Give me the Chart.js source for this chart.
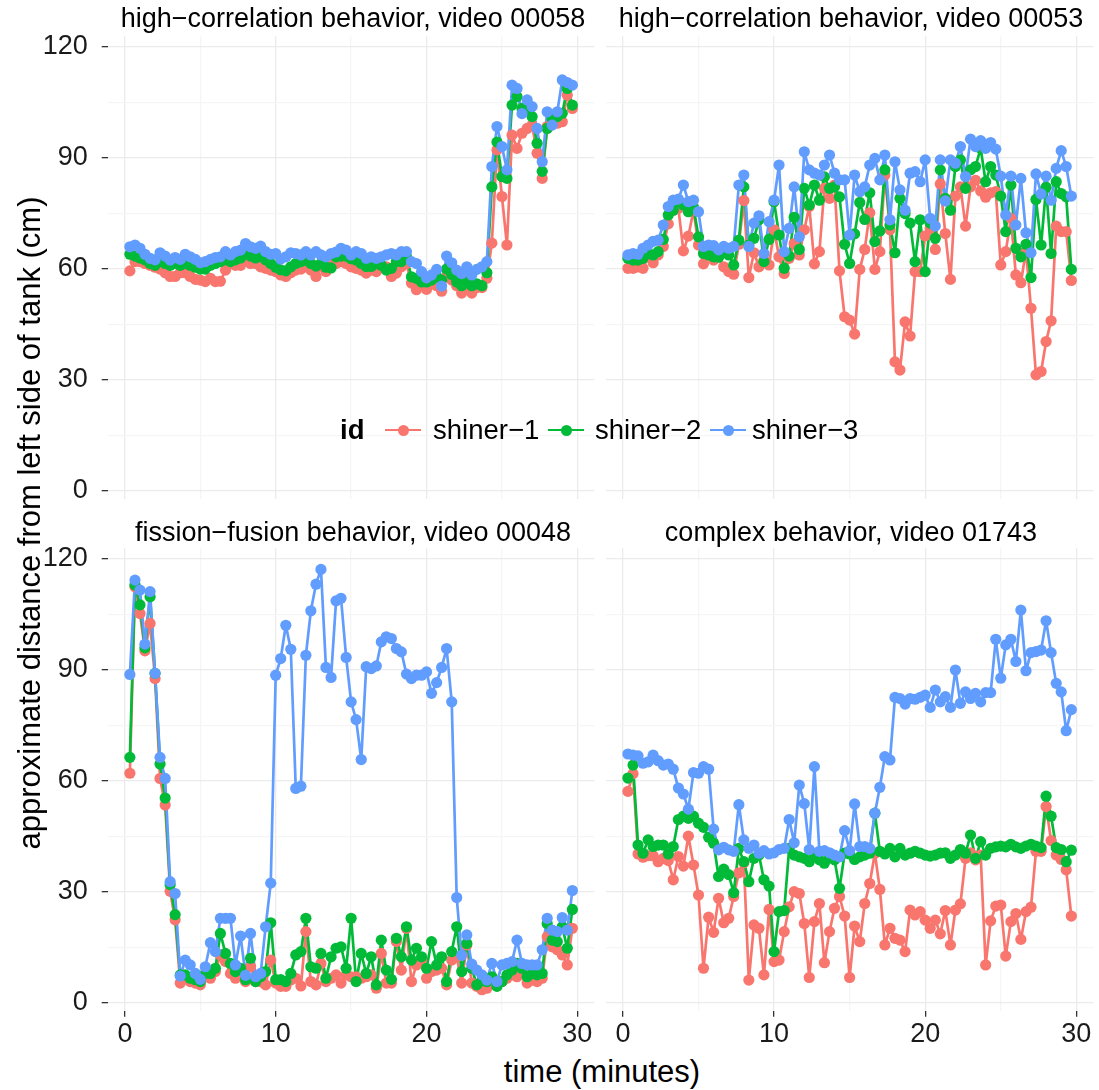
<!DOCTYPE html>
<html>
<head>
<meta charset="utf-8">
<script src="https://cdn.jsdelivr.net/npm/chart.js@4.4.1/dist/chart.umd.min.js"></script>
<style>
  body { margin: 0; background: #fff; }
  #wrap { position: relative; width: 1099px; height: 1090px; overflow: hidden; font-family: "Liberation Sans", Arial, sans-serif; color: #000; }
  canvas { position: absolute; }
  .strip { position: absolute; font-size: 27px; text-align: center; line-height: 30px; white-space: nowrap; }
  .axis-title { position: absolute; font-size: 31px; white-space: nowrap; line-height: 36px; }
  .leg { position: absolute; font-size: 27.5px; line-height: 30px; white-space: nowrap; }
  .key { position: absolute; width: 36px; height: 30px; }
  .key::before { content: ''; position: absolute; left: 0; right: 0; top: 13.7px; height: 2.7px; background: var(--c); }
  .key::after { content: ''; position: absolute; left: 12.5px; top: 9.5px; width: 11px; height: 11px; border-radius: 50%; background: var(--c); }
</style>
</head>
<body>
<div id="wrap">
  <canvas id="chart-tl"></canvas>
  <canvas id="chart-tr"></canvas>
  <canvas id="chart-bl"></canvas>
  <canvas id="chart-br"></canvas>

  <div class="strip" style="left:108px;width:490px;top:3px;">high−correlation behavior, video 00058</div>
  <div class="strip" style="left:606px;width:490px;top:3px;">high−correlation behavior, video 00053</div>
  <div class="strip" style="left:108px;width:490px;top:517px;">fission−fusion behavior, video 00048</div>
  <div class="strip" style="left:606px;width:490px;top:517px;">complex behavior, video 01743</div>

  <div class="axis-title" style="left:402px;width:400px;text-align:center;top:1054px;">time (minutes)</div>
  <div class="axis-title" style="left:-470px;width:1000px;text-align:center;top:505px;transform:rotate(-90deg);">approximate distance from left side of tank (cm)</div>

  <div class="leg" style="left:340px;top:415px;font-weight:bold;">id</div>
  <div class="key" style="left:385px;top:415px;--c:#F8766D;"></div>
  <div class="leg" style="left:433px;top:415px;">shiner−1</div>
  <div class="key" style="left:548px;top:415px;--c:#00BA38;"></div>
  <div class="leg" style="left:595px;top:415px;">shiner−2</div>
  <div class="key" style="left:710px;top:415px;--c:#619CFF;"></div>
  <div class="leg" style="left:752px;top:415px;">shiner−3</div>
</div>

<script>
// --- Data (minutes, cm from left side of tank) ---
const timeMinutes = [0.33,0.67,1,1.33,1.67,2,2.33,2.67,3,3.33,3.67,4,4.33,4.67,5,5.33,5.67,6,6.33,6.67,7,7.33,7.67,8,8.33,8.67,9,9.33,9.67,10,
  10.33,10.67,11,11.33,11.67,12,12.33,12.67,13,13.33,13.67,14,14.33,14.67,15,15.33,15.67,16,16.33,16.67,17,17.33,17.67,18,18.33,18.67,19,19.33,19.67,20,
  20.33,20.67,21,21.33,21.67,22,22.33,22.67,23,23.33,23.67,24,24.33,24.67,25,25.33,25.67,26,26.33,26.67,27,27.33,27.67,28,28.33,28.67,29,29.33,29.67];

const seriesNames = ['shiner−1', 'shiner−2', 'shiner−3'];
const seriesColors = ['#F8766D', '#00BA38', '#619CFF'];

const panelTitles = [
  'high−correlation behavior, video 00058',
  'high−correlation behavior, video 00053',
  'fission−fusion behavior, video 00048',
  'complex behavior, video 01743'
];

const xTicks = [0, 5, 10, 15, 20, 25, 30];
const yTicks = [0, 15, 30, 45, 60, 75, 90, 105, 120];

// video 00058
const v58Shiner1 = [59.5,62,62,61.5,61,60.5,60,59,58,58,59,59,58,57.2,57,56.6,57.5,56.6,56.7,59.7,61.5,61,61,62.4,61.5,61.5,60.6,60.2,
  59.7,59.3,58.4,58,59,59.7,60,60.6,59.7,58,60.6,59.3,61.5,61.5,62,61.5,60.6,60.2,59.7,58.9,59.7,59.3,60.6,60.6,58,58.9,60.6,61.5,56.2,54.4,
  56,54.5,56,55.5,54,58,57,55.5,53.5,55,53.5,55,55,57.5,67,92.2,79.6,66.5,96.2,92.6,96.7,98,98.9,91.3,84.5,98.5,99.4,99.4,99.8,107,103.4];
const v58Shiner2 = [64,63.5,63,62.5,61.5,61,62,61.5,61,61.5,61,61.5,61,60.5,60,60,61,61.5,62,62.5,62,62.5,63,64.5,63.5,63,63.5,62.5,61.5,60.5,59.8,
  59.5,60.6,61.5,62,62.4,61.5,60.8,61.5,60.5,60.3,63.3,63.5,63.5,62.8,62.4,61.5,60.7,60.7,61.5,61,59.7,60.2,62,62,63.3,57.9,57.5,
  56.5,56.5,57,58,57,60,58.5,56.5,55.5,57,55.5,56,55.5,59,82.2,94.3,85,84.5,104.3,106.6,103.4,103,101.2,94,86.4,98,100.7,101.2,102.1,108.8,104.3];
const v58Shiner3 = [66,66.5,65.6,64,62.9,62.5,64.4,63.5,62.4,63.1,62.6,64,63.3,62.6,61.7,62,62.6,63.1,63.3,64.7,63.8,64.7,65.1,66.9,66,65.6,66.2,64.7,64,64.2,62.7,
  63.3,64.4,64.2,63.8,64.7,63.8,64.7,63.8,63.3,64.2,64.6,65.6,65.1,63.8,64.7,64.2,62.9,63.3,62.9,63.3,63.8,64.2,63.8,64.7,64.7,62,61.5,
  59.3,57.6,58.4,59.9,55.4,63.5,61.7,59.7,58.8,60.6,58.4,59.9,60.6,62,87.7,98.5,93.1,86.8,109.7,108.8,102,105.7,103.9,98,89,102.5,98.9,102.5,111.1,110.4,109.7];

// video 00053
const v53Shiner1 = [60.2,60.2,60.6,60.2,63.3,61.7,63.8,66.1,72.2,75.9,76.4,64.9,68.9,75.8,66.5,61.4,63.8,62.4,63.3,60.6,59.3,58.6,66.7,78.5,57.7,64.4,60.6,62.4,
  61.1,70.6,63.3,58.8,62.9,66.9,63.8,70.6,76.9,61.4,64.7,81.8,79.1,82.7,59.5,47.1,46.2,42.4,59.9,65.3,75.2,59.9,64.7,85.4,70.6,34.9,32.7,45.7,41.9,
  59.3,59.3,69,71,65.3,83,69.6,57.2,79.7,82.2,71.6,82.2,84,81.1,79.4,80.6,80.9,61.1,64.7,73.7,58.4,56.3,64.9,49.4,31.4,32.3,40.4,46,71.6,70.1,70.1,56.9];
const v53Shiner2 = [62.9,62.4,62.4,62.9,64.2,63.8,64.7,68,74.6,75.9,78.2,77.3,75.5,76.7,68.7,64.2,63.8,63.3,63.2,64.7,63.8,61.1,67.8,82.2,66.5,68.3,73.3,62,
  68,78.2,69.2,60.2,63.5,74,65.3,81.8,77.3,82.7,78.6,84.9,81.8,82.2,79.5,66.7,61.5,69.5,78,73.4,80.6,67.4,70.3,86.8,71.9,64.4,79.1,75,72.4,
  62,73.3,59.3,72.4,68.3,86.8,79.1,75.9,87.7,89.5,81.8,86.8,87.7,92.6,83.6,87.7,85.4,79.7,70.1,82.7,65.6,63.3,66.7,57.7,78.8,66.5,82.1,64.2,83.6,80.4,79.5,59.9];
const v53Shiner3 = [63.8,64.2,64,65.6,66.5,67.5,67.8,71.9,76.9,78.6,78.9,82.7,78.2,78.6,75.5,66.1,66.5,66.3,65.2,66.1,65.6,66.1,82.7,85.4,66.1,72.4,74.4,64.2,72.8,78.6,88.1,
  64.7,71,82.2,68.7,91.7,86.8,85.9,85.4,88.1,90.8,85.9,84.1,84.1,69.2,85.4,80.9,82.2,88.1,89.9,84.1,90.8,73.3,89,81.4,75.9,85.9,
  86.3,83.6,89.5,73.7,71.6,89.5,78.4,89.5,88.6,93.1,85,95.1,93.1,94.7,92.6,94.2,92.4,85.1,74.6,85.1,71.9,84.5,69.8,64.4,85.7,80.3,85.1,78.6,87.2,92,87.7,79.7];

// video 00048
const v48Shiner1 = [62.1,112.5,105.3,95.2,102.6,87.7,60.7,53.5,30.2,22.5,5.4,6.7,5.8,5.4,4.9,7.6,6.7,8.5,13,11.2,8,6.7,8,5.8,9.8,5.8,5.8,4.9,11.6,5.4,4.5,
  4.5,6.2,6.7,4.6,19.3,5.8,4.9,10.7,5.8,6.7,7.6,5.4,7.6,7.1,7.1,6.7,7.1,7.6,4,13.4,5.4,5.4,16.6,8.9,20.2,5.8,10.3,
  11.6,6.7,8.5,8.9,9.4,4.9,11.6,12.5,5.4,15.7,5.4,4.5,3.6,4,5.8,5.4,5.8,6.7,7.6,7.1,8,5.4,6.2,5.8,6.7,17.9,15.2,14.4,13,10.3,20.2];
const v48Shiner2 = [66.4,113,107.6,96,109.8,89.1,64.6,55.4,32,23.9,7.6,7.6,6.7,6.3,5.8,8,8,9.4,18.8,13.4,10.7,8.5,9.4,6.3,12.1,5.8,7.1,8.5,21.7,6.3,6.3,
  5.8,8,13,13.9,22.9,9.8,9.4,13.4,6.7,12.5,14.8,15.2,9.4,22.9,5.8,13.4,8,12.5,4.9,17,8.9,6.4,17.5,12.5,20.6,11.6,14.8,
  12.5,9.4,16.6,10.3,12.5,5.8,13.9,20.6,8.5,16.1,9.4,4.9,6,5.8,7.1,4.5,5.8,7.6,8.9,10.7,9.4,7.1,8,7.6,8,21.5,17,16.6,20.6,14.8,25.3];
const v48Shiner3 = [88.8,114.3,111.6,97,111.2,89.1,66.4,60.7,32.8,29.6,7.3,11.6,10.3,8,6.4,9.8,16.3,13.9,22.9,22.9,22.9,10.3,18.1,7.5,18.8,7.1,8,20.6,32.4,88.6,93.1,
  102.1,95.6,58,58.6,94,106,113.2,117.2,90.7,88,108.7,109.4,93.4,81.4,76.6,65.8,90.9,90.4,91.1,97.6,99,98.5,95.8,94.9,88.9,87.7,88.6,
  88.6,89.5,83.7,86.6,90.7,95.8,81.4,28.5,12.9,18.4,10.5,8.9,7.6,6.2,10.7,5.8,10.3,10.7,11.2,17,10.7,10.3,10.3,10.3,14.4,22.9,19.7,19.3,23.1,19.7,30.4];

// video 01743
const v1743Shiner1 = [57.2,62,40.3,39.4,39.8,39.8,38.2,39.1,38.5,33.3,39.6,37,45.1,37.3,29.2,9.4,23.2,19.1,28.3,21.7,22.9,28.8,35.2,37.9,6.2,21.1,20.2,7.6,25.3,11.2,11.6,
  19.3,26,30.1,29.6,21.5,6.9,22,26.9,10.9,19.3,25.6,28.8,23.5,6.9,20.8,16.6,26.9,32.3,40.5,30.7,15.7,20.2,17.5,17,13.9,25.1,
  23.8,24.7,22.4,20.2,22.4,18.7,25,15.7,25.1,26.8,39.1,40.6,38.7,40,10.3,22.2,26.2,26.5,12.7,22,24.2,17.2,24.7,25.9,41,41,53.1,43.9,40,38.8,36,23.5];
const v1743Shiner2 = [60.8,64.3,42.7,40.5,44.1,42.3,42.7,42.7,40.3,42.3,49.6,50.5,49.9,50.5,48.6,47.5,44.8,43.2,34.2,36.2,34.7,29.8,41.8,38.2,32.8,39.1,40,33.3,31.6,13.9,24.7,
  25,41.8,40,39.5,39.1,38.2,40.3,38.7,37.8,39.5,38.7,31,40.5,40.3,38.8,39.5,40,40.5,51.3,41,40.3,41.8,39.5,41.8,40,40.5,
  41,40.5,40,39.7,40,40.5,40.6,39.1,40,41.5,40.5,45.4,39.1,43.6,40,41.8,42.2,42.4,42.2,42.9,42.2,41.8,42.4,42.9,42.4,42,55.9,50.5,42,41.5,38.2,41.3];
const v1743Shiner3 = [67.3,67,66.8,64.8,65.2,67,65.5,64.3,64.6,63.2,58.1,56.5,52.4,62.3,62.1,63.9,63.2,47,41.4,42.1,41.4,41,53.6,44.1,41.8,42.7,40.5,41.2,40.3,40.6,41.5,
  41.8,49.6,43.3,58.9,53.9,41.5,63.9,41,41.2,40.6,40,39.5,46.6,41.2,53.8,42.3,42.3,41.8,51.3,58.3,66.6,65.7,82.6,82.3,80.8,82.3,
  82.1,82.6,83.2,79.9,84.6,81.4,82.8,79.9,90,81,84.1,82.3,83.7,81.4,83.9,83.9,98.3,87.8,96.8,98.3,92.3,106.2,89.8,94.7,95,95.4,103.3,94.7,86.4,84.1,73.6,79.3];

// --- Layout (page pixels) ---
const X_MIN = -1.14, X_MAX = 31.13;
const Y_MIN = -2.1, Y_MAX = 122.9;
const TICK_FONT = { family: '"Liberation Sans", Arial, sans-serif', size: 27 };
const TICK_COLOR = '#1a1a1a';
const GRID_MAJOR = '#ebebeb', GRID_MINOR = '#f5f5f5';

const panels = [
  { id: 'chart-tl', series: [v58Shiner1, v58Shiner2, v58Shiner3], left: 0,   top: 30,  w: 600, h: 475, area: [107.7, 36.3, 598.2, 498.8], showX: false, showY: true },
  { id: 'chart-tr', series: [v53Shiner1, v53Shiner2, v53Shiner3], left: 600, top: 30,  w: 499, h: 475, area: [605.7, 36.3, 1096.2, 498.8], showX: false, showY: false },
  { id: 'chart-bl', series: [v48Shiner1, v48Shiner2, v48Shiner3], left: 0,   top: 540, w: 600, h: 510, area: [107.7, 548.3, 598.2, 1010.8], showX: true, showY: true },
  { id: 'chart-br', series: [v1743Shiner1, v1743Shiner2, v1743Shiner3], left: 600, top: 540, w: 499, h: 510, area: [605.7, 548.3, 1096.2, 1010.8], showX: true, showY: false }
];

function toPoints(values) {
  return values.map((v, i) => ({ x: timeMinutes[i], y: v }));
}

function buildDatasets(series) {
  const pts = [], lines = [];
  // first dataset is painted last in Chart.js, so points come first (blue on top)
  for (let s = series.length - 1; s >= 0; s--) {
    pts.push({ label: seriesNames[s], data: toPoints(series[s]), showLine: false,
      pointRadius: 5.6, pointHoverRadius: 5.6, pointBorderWidth: 0, pointBackgroundColor: seriesColors[s] });
  }
  for (let s = series.length - 1; s >= 0; s--) {
    lines.push({ label: seriesNames[s] + ' line', data: toPoints(series[s]), showLine: true,
      borderColor: seriesColors[s], borderWidth: 2.7, borderJoinStyle: 'round', borderCapStyle: 'round',
      pointRadius: 0, tension: 0 });
  }
  return pts.concat(lines);
}

function gridColor(step) {
  return ctx => (ctx.tick && Math.abs(ctx.tick.value % step) < 1e-6) ? GRID_MAJOR : GRID_MINOR;
}

function tickMarkColor(step) {
  return ctx => (ctx.tick && Math.abs(ctx.tick.value % step) < 1e-6) ? '#333333' : 'rgba(0,0,0,0)';
}

// stop Chart.js from reserving room for overhanging tick labels
function noPadding(s) {
  s.paddingTop = 0; s.paddingBottom = 0; s.paddingLeft = 0; s.paddingRight = 0;
}

function renderPanel(p) {
  const canvas = document.getElementById(p.id);
  canvas.width = p.w; canvas.height = p.h;
  canvas.style.left = p.left + 'px'; canvas.style.top = p.top + 'px';
  canvas.style.width = p.w + 'px'; canvas.style.height = p.h + 'px';

  const [aL, aT, aR, aB] = p.area;
  new Chart(canvas.getContext('2d'), {
    type: 'scatter',
    data: { datasets: buildDatasets(p.series) },
    options: {
      responsive: false, animation: false, devicePixelRatio: 1,
      layout: { padding: { left: 0, top: aT - p.top, right: p.left + p.w - aR, bottom: 0 } },
      plugins: { legend: { display: false }, tooltip: { enabled: false } },
      scales: {
        x: {
          type: 'linear', min: X_MIN, max: X_MAX,
          afterBuildTicks: s => { s.ticks = xTicks.map(v => ({ value: v })); },
          afterFit: s => { s.height = p.top + p.h - aB; noPadding(s); },
          border: { display: false },
          grid: { color: gridColor(10), lineWidth: 1.3, drawTicks: p.showX, tickLength: 6, tickColor: tickMarkColor(10), tickWidth: 1.3 },
          ticks: { display: p.showX, font: TICK_FONT, color: TICK_COLOR, padding: 2, maxRotation: 0,
            callback: v => (v % 10 === 0 ? String(v) : '') }
        },
        y: {
          type: 'linear', min: Y_MIN, max: Y_MAX,
          afterBuildTicks: s => { s.ticks = yTicks.map(v => ({ value: v })); },
          afterFit: s => { s.width = aL - p.left; noPadding(s); },
          border: { display: false },
          grid: { color: gridColor(30), lineWidth: 1.3, drawTicks: p.showY, tickLength: 6, tickColor: tickMarkColor(30), tickWidth: 1.3 },
          ticks: { display: p.showY, font: TICK_FONT, color: TICK_COLOR, padding: 14,
            callback: v => (v % 30 === 0 ? String(v) : '') }
        }
      }
    }
  });
}

panels.forEach(renderPanel);
</script>
</body>
</html>
